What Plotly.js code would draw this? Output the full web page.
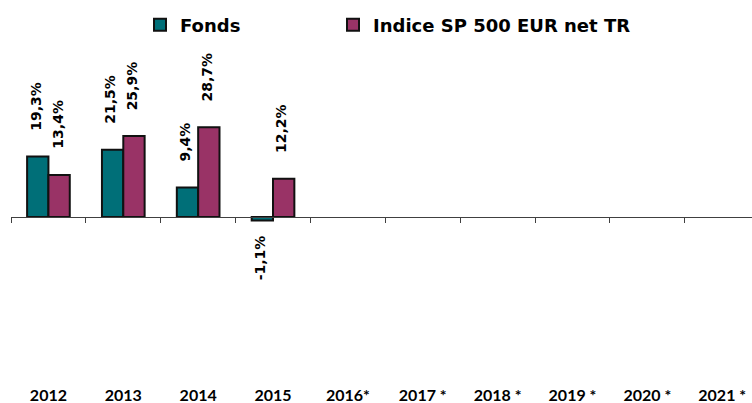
<!DOCTYPE html>
<html><head><meta charset="utf-8">
<script src="https://cdn.plot.ly/plotly-3.0.1.min.js"></script>
<style>html,body{margin:0;padding:0;background:#fff}#chart{width:752px;height:403px}</style>
</head><body><div id="chart"></div>
<script>
const years = ['2012', '2013', '2014', '2015', '2016*', '2017 *', '2018 *', '2019 *', '2020 *', '2021 *'];
const fonds = [19.3, 21.5, 9.4, -1.1, null, null, null, null, null, null];
const indice = [13.4, 25.9, 28.7, 12.2, null, null, null, null, null, null];
const seriesNames = ['Fonds', 'Indice SP 500 EUR net TR'];

const colors = ['#006f78', '#993366'];
const bargap = 0.43;
const yRange = [-53.3, 55.4];
const labelGapPos = 24;
const labelGapNeg = 13;
const fmt = v => v.toFixed(1).replace('.', ',') + '%';

const series = [fonds, indice];
const legendIds = ['legend', 'legend2'];
const traces = series.map((vals, s) => ({
  type: 'bar', name: seriesNames[s], x: years, y: vals, legend: legendIds[s],
  marker: {color: colors[s], line: {color: '#111', width: 2}},
  hoverinfo: 'skip'
}));
traces.push({type: 'scatter', mode: 'markers', x: years, y: years.map(() => null),
  xaxis: 'x2', showlegend: false, hoverinfo: 'skip'});

const off = (1 - bargap) / 4;
const annotations = [];
series.forEach((vals, s) => {
  vals.forEach((v, i) => {
    if (v === null) return;
    annotations.push({
      xref: 'x', yref: 'y', x: i + (s === 0 ? -off : off), y: v,
      text: fmt(v), textangle: -90, showarrow: false,
      xanchor: 'center', yanchor: v >= 0 ? 'bottom' : 'top',
      yshift: v >= 0 ? labelGapPos : -labelGapNeg, xshift: -2,
      font: {family: 'DejaVu Sans', size: 14, color: '#000', weight: 'bold'}
    });
  });
});

const zeroFrac = (0 - yRange[0]) / (yRange[1] - yRange[0]);
const xr = [-0.5, 9.398];
const legendFont = {family: 'DejaVu Sans', size: 18, color: '#000', weight: 'bold'};
const legendBase = {orientation: 'h', xref: 'container', yref: 'container',
  y: 1 - 25 / 403, xanchor: 'left', yanchor: 'middle', font: legendFont,
  bgcolor: 'rgba(0,0,0,0)'};

const layout = {
  width: 752, height: 403,
  margin: {l: 11, r: 0, t: 40, b: 19},
  paper_bgcolor: '#fff', plot_bgcolor: '#fff',
  barmode: 'group', bargap: bargap, bargroupgap: 0,
  showlegend: true,
  legend: Object.assign({}, legendBase, {x: 140 / 752}),
  legend2: Object.assign({}, legendBase, {x: 333 / 752}),
  xaxis: {type: 'category', categoryorder: 'array', categoryarray: years, range: xr,
    showline: false, ticks: '', showgrid: false, zeroline: false, fixedrange: true,
    tickfont: {family: 'Lato', size: 16, color: '#000', weight: 'bold'}},
  xaxis2: {type: 'category', categoryorder: 'array', categoryarray: years, range: xr,
    overlaying: 'x', anchor: 'free', position: zeroFrac,
    showline: true, linecolor: '#404040', linewidth: 1,
    ticks: 'outside', tickson: 'boundaries', ticklen: 5, tickcolor: '#404040',
    showticklabels: false, showgrid: false, zeroline: false, fixedrange: true},
  yaxis: {range: yRange, visible: false, showgrid: false, zeroline: false, fixedrange: true},
  annotations: annotations
};

Plotly.newPlot('chart', traces, layout, {displayModeBar: false, staticPlot: true});
</script></body></html>
